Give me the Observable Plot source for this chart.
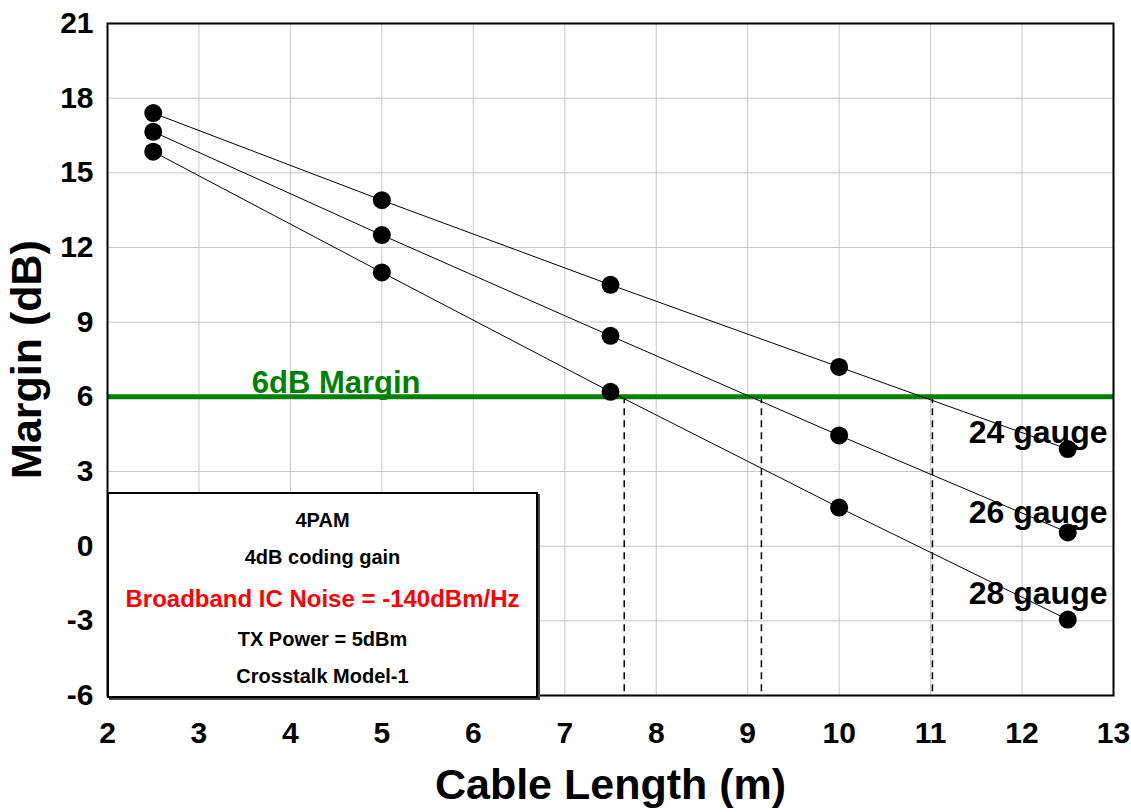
<!DOCTYPE html>
<html>
<head>
<meta charset="utf-8">
<script src="https://cdn.jsdelivr.net/npm/d3@7"></script>
<script src="https://cdn.jsdelivr.net/npm/@observablehq/plot@0.6"></script>
<style>
  html, body { margin: 0; padding: 0; background: white; }
  #wrap { position: relative; width: 1131px; height: 812px; font-family: "Liberation Sans", Arial, sans-serif; }
  #box { position: absolute; left: 107px; top: 492px; width: 427px; height: 202px; border: 2px solid black;
         background: white; box-shadow: 2px 2px 0 #444; font-weight: bold; text-align: center; }
  #box div { position: absolute; left: 0; right: 0; white-space: nowrap; }
</style>
</head>
<body>
<div id="wrap"></div>
<script>
// ---- data ----
const lengths = [2.5, 5, 7.5, 10, 12.5];
const gauges = ["24 gauge", "26 gauge", "28 gauge"];
const margin24 = [17.4, 13.9, 10.5, 7.2, 3.9];
const margin26 = [16.65, 12.5, 8.45, 4.45, 0.55];
const margin28 = [15.85, 11.0, 6.2, 1.55, -2.95];
const labelY = [4.55, 1.35, -1.9];
const crossings = [7.65, 9.15, 11.02];
const marginLine = 6;
const xTicks = [2, 3, 4, 5, 6, 7, 8, 9, 10, 11, 12, 13];
const yTicks = [-6, -3, 0, 3, 6, 9, 12, 15, 18, 21];
const boxLines = ["4PAM", "4dB coding gain", "Broadband IC Noise = -140dBm/Hz", "TX Power = 5dBm", "Crosstalk Model-1"];

const series = [margin24, margin26, margin28];
const data = [];
series.forEach((vals, i) => vals.forEach((v, j) => data.push({gauge: gauges[i], x: lengths[j], y: v})));
const labels = gauges.map((g, i) => ({gauge: g, y: labelY[i]}));

const font = "Liberation Sans, Arial, sans-serif";
const fmt = d => String(d);
const chart = Plot.plot({
  width: 1131, height: 812,
  marginLeft: 107, marginTop: 23, marginRight: 18, marginBottom: 117,
  style: {fontFamily: font, background: "white"},
  x: {domain: [2, 13]},
  y: {domain: [-6, 21]},
  marks: [
    Plot.gridX(xTicks, {stroke: "#c8c8c8", strokeOpacity: 1, strokeWidth: 1}),
    Plot.gridY(yTicks, {stroke: "#c8c8c8", strokeOpacity: 1, strokeWidth: 1}),
    Plot.axisX(xTicks, {tickSize: 0, tickPadding: 26, fontSize: 30, fontWeight: "bold", label: null, fill: "black", tickFormat: fmt}),
    Plot.axisY(yTicks, {tickSize: 0, tickPadding: 14, fontSize: 30, fontWeight: "bold", label: null, fill: "black", tickFormat: fmt}),
    Plot.ruleX(crossings, {y1: marginLine, y2: -6, stroke: "black", strokeWidth: 1.5, strokeDasharray: "7,5"}),
    Plot.ruleY([marginLine], {stroke: "#008000", strokeWidth: 5}),
    Plot.text(["6dB Margin"], {x: 4.5, y: marginLine, dy: -14, fill: "#008000", fontSize: 31, fontWeight: "bold"}),
    Plot.line(data, {x: "x", y: "y", z: "gauge", stroke: "black", strokeWidth: 1}),
    Plot.dot(data, {x: "x", y: "y", r: 9, fill: "black", stroke: "none"}),
    Plot.text(labels, {x: 13, y: "y", text: "gauge", textAnchor: "end", dx: -6, fontSize: 32, fontWeight: "bold", fill: "black"}),
    Plot.frame({stroke: "black", strokeWidth: 2}),
    Plot.text(["Cable Length (m)"], {frameAnchor: "bottom", lineAnchor: "middle", textAnchor: "middle", dy: 90, fontSize: 43, fontWeight: "bold", fill: "black"}),
    Plot.text(["Margin (dB)"], {frameAnchor: "left", lineAnchor: "middle", textAnchor: "middle", dx: -80, rotate: -90, fontSize: 43, fontWeight: "bold", fill: "black"})
  ]
});
const wrap = document.getElementById("wrap");
wrap.appendChild(chart);

const box = document.createElement("div");
box.id = "box";
const centers = [26, 63, 105, 145, 182];
boxLines.forEach((t, i) => {
  const fs = i === 2 ? 24 : 20;
  const d = document.createElement("div");
  d.textContent = t;
  d.style.fontSize = fs + "px";
  d.style.lineHeight = fs + "px";
  d.style.top = (centers[i] - 0.49 * fs) + "px";
  d.style.color = i === 2 ? "#ff0000" : "black";
  box.appendChild(d);
});
wrap.appendChild(box);
</script>
</body>
</html>
